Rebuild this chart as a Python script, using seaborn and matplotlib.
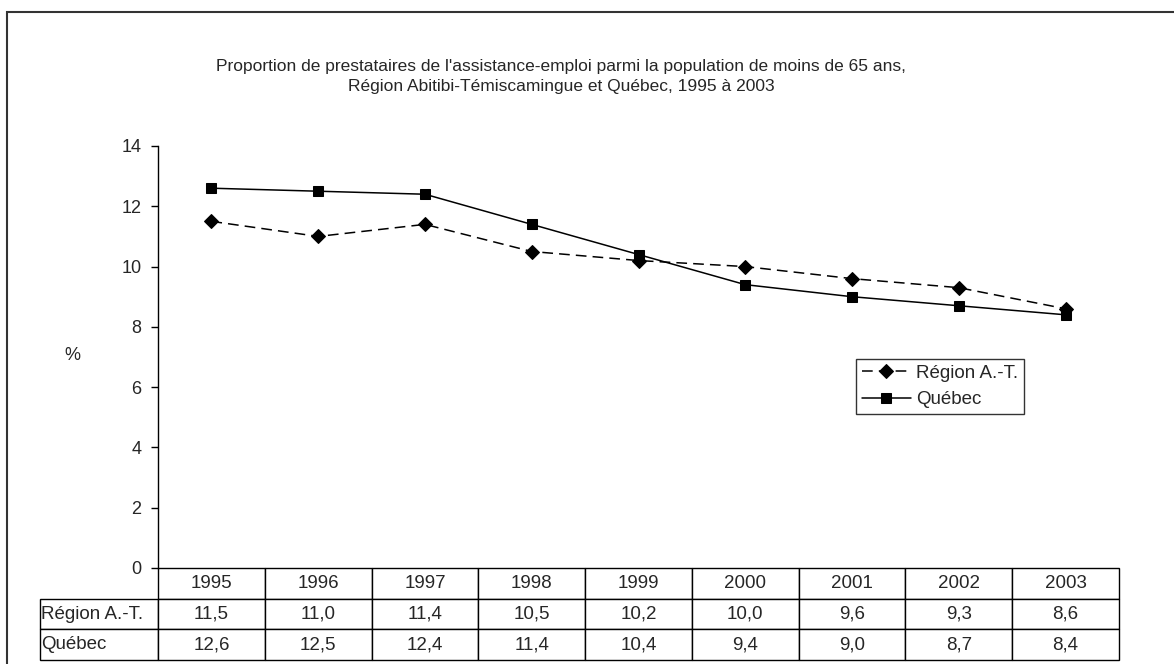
import matplotlib
matplotlib.use("Agg")
import pandas as pd
import matplotlib.pyplot as plt
import seaborn as sns
from matplotlib.table import Table
from matplotlib.patches import Rectangle

# Data
years = ["1995", "1996", "1997", "1998", "1999", "2000", "2001", "2002", "2003"]
region_at = [11.5, 11.0, 11.4, 10.5, 10.2, 10.0, 9.6, 9.3, 8.6]
quebec = [12.6, 12.5, 12.4, 11.4, 10.4, 9.4, 9.0, 8.7, 8.4]
series_names = ["Région A.-T.", "Québec"]
y_ticks = [0, 2, 4, 6, 8, 10, 12, 14]
title_lines = [
    "Proportion de prestataires de l'assistance-emploi parmi la population de moins de 65 ans,",
    "Région Abitibi-Témiscamingue et Québec, 1995 à 2003",
]

df = pd.DataFrame({
    "annee": years * 2,
    "pct": region_at + quebec,
    "serie": [series_names[0]] * len(years) + [series_names[1]] * len(years),
})

sns.set_style("white")
plt.rcParams["font.family"] = ["Liberation Sans", "DejaVu Sans"]

W, H = 1174, 664
fig = plt.figure(figsize=(W / 100, H / 100), dpi=100)
ax_left, ax_right, ax_bottom, ax_top = 158, 1119, 568, 146
fig.subplots_adjust(left=ax_left / W, right=ax_right / W,
                    bottom=1 - ax_bottom / H, top=1 - ax_top / H)
ax = fig.add_subplot(111)

sns.lineplot(data=df, x="annee", y="pct", hue="serie", style="serie",
             hue_order=series_names, style_order=series_names,
             palette=["black", "black"], markers=["D", "s"],
             dashes=[(7, 4), ""], linewidth=1.1, markersize=7,
             markeredgecolor="black", ax=ax, sort=False)

ax.set_xlim(-0.5, len(years) - 0.5)
ax.set_ylim(0, 14)
ax.set_yticks(y_ticks)
ax.set_yticklabels([str(t) for t in y_ticks], fontsize=13)
ax.set_xticks([])
ax.set_xlabel("")
ax.set_ylabel("")
ax.tick_params(axis="y", left=True, length=5, width=1, direction="out",
               color="black", pad=7)
for side in ["top", "right", "bottom"]:
    ax.spines[side].set_visible(False)
ax.spines["left"].set_color("black")
ax.spines["left"].set_linewidth(1)

# Legend
handles, labels = ax.get_legend_handles_labels()
keep = [(h, l) for h, l in zip(handles, labels) if l in series_names]
leg = ax.legend([h for h, _ in keep], [l for _, l in keep],
                loc="upper left", bbox_to_anchor=(856 / W, 1 - 359 / H),
                bbox_transform=fig.transFigure, borderaxespad=0,
                fontsize=13.5, frameon=True, fancybox=False, handlelength=2.65,
                handletextpad=0.27, borderpad=0.3, labelspacing=0.5)
leg.get_frame().set_edgecolor("black")
leg.get_frame().set_linewidth(1)

# Data table under the plot
ax_w = ax_right - ax_left
ax_h = ax_bottom - ax_top
label_w = 118
row_h = 30.7
tbl_left = 40
tbl = Table(ax, bbox=[(tbl_left - ax_left) / ax_w, -3 * row_h / ax_h,
                      (ax_right - tbl_left) / ax_w, 3 * row_h / ax_h])
col_w = ax_w / len(years)
rows = [(None, years), (series_names[0], [f"{v:.1f}".replace(".", ",") for v in region_at]),
        (series_names[1], [f"{v:.1f}".replace(".", ",") for v in quebec])]
for r, (lab, vals) in enumerate(rows):
    c0 = tbl.add_cell(r, 0, width=label_w, height=row_h, text=lab or "", loc="left")
    c0.PAD = 0.01
    if lab is None:
        c0.visible_edges = "open"
    for c, v in enumerate(vals):
        tbl.add_cell(r, c + 1, width=col_w, height=row_h, text=v, loc="center")
tbl.auto_set_font_size(False)
tbl.set_fontsize(13.5)
for cell in tbl.get_celld().values():
    cell.set_edgecolor("black")
    cell.set_linewidth(1)
ax.add_table(tbl)

# Title and axis label
fig.text(561 / W, 1 - 76.5 / H, "\n".join(title_lines), ha="center", va="center",
         fontsize=12.5, linespacing=1.35)
fig.text(72 / W, 1 - 356 / H, "%", ha="center", va="center", fontsize=13)

# Outer chart frame
fig.add_artist(Rectangle((7 / W, -0.1), 1.5, 1 - 12 / H + 0.1,
                         transform=fig.transFigure, fill=False,
                         edgecolor="#333333", linewidth=1.5))

fig.savefig("out.png", dpi=100)
